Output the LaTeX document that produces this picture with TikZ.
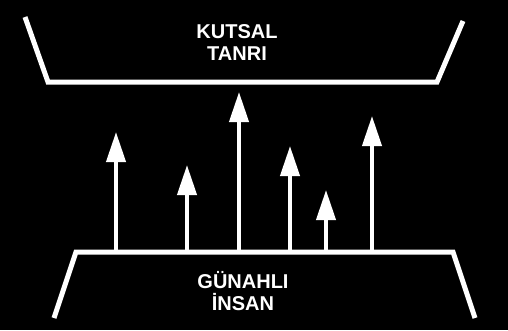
\documentclass[tikz,border=0pt]{standalone}
\usepackage{fontspec}
\setmainfont{Liberation Sans}
\usetikzlibrary{arrows.meta}
\begin{document}
\begin{tikzpicture}[x=1pt,y=-1pt,
  trough/.style={draw=white,line width=5pt,line join=miter},
  uparrow/.style={draw=white,line width=4pt,-{Triangle[length=30pt,width=19pt]}},
  label/.style={text=white,font=\fontsize{20}{22}\selectfont\bfseries,align=center,inner sep=0pt}]
\fill[black] (0,0) rectangle (508,330);
\useasboundingbox (0,0) rectangle (508,330);
% top trough
\coordinate (t1) at (25,17);
\coordinate (t2) at (48,82);
\coordinate (t3) at (437,82);
\coordinate (t4) at (463,21);
\draw[trough] (t1) -- (t2) -- (t3) -- (t4);
% bottom trough
\coordinate (b1) at (54,318);
\coordinate (b2) at (76,252);
\coordinate (b3) at (453,252);
\coordinate (b4) at (475,318);
\draw[trough] (b1) -- (b2) -- (b3) -- (b4);
% labels
\node[label] (god) at (237,43) {KUTSAL\\TANRI};
\node[label] (man) at (243,291) {GÜNAHLI\\İNSAN};
% arrows
\foreach \i/\x/\y in {1/116/132,2/187/165,3/239/92,4/290/146,5/326/190,6/372/116}{
  \coordinate (s\i) at (\x,250);
  \coordinate (e\i) at (\x,\y);
  \draw[uparrow] (s\i) -- (e\i);
}
\end{tikzpicture}
\end{document}
